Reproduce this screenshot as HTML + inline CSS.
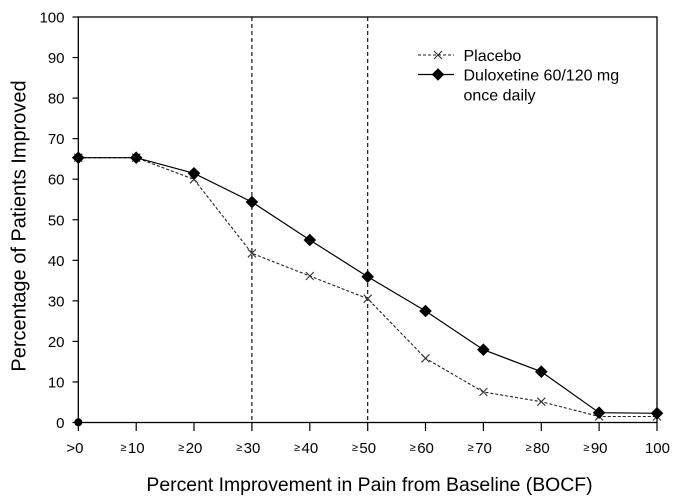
<!DOCTYPE html>
<html><head><meta charset="utf-8"><style>
html,body{margin:0;padding:0;background:#fff;}
svg{display:block;}
text{font-family:"Liberation Sans",Arial,sans-serif;fill:#000;}
</style></head><body>
<svg width="677" height="501" viewBox="0 0 677 501" xmlns="http://www.w3.org/2000/svg">
<rect x="0" y="0" width="677" height="501" fill="#fff"/>
<!-- frame -->
<rect x="78.3" y="17" width="578.7" height="405.5" fill="none" stroke="#000" stroke-width="1.3"/>
<!-- y ticks -->
<g stroke="#000" stroke-width="1.2">
<line x1="72.5" y1="422.5" x2="78.3" y2="422.5"/>
<line x1="72.5" y1="381.95" x2="78.3" y2="381.95"/>
<line x1="72.5" y1="341.4" x2="78.3" y2="341.4"/>
<line x1="72.5" y1="300.85" x2="78.3" y2="300.85"/>
<line x1="72.5" y1="260.3" x2="78.3" y2="260.3"/>
<line x1="72.5" y1="219.75" x2="78.3" y2="219.75"/>
<line x1="72.5" y1="179.2" x2="78.3" y2="179.2"/>
<line x1="72.5" y1="138.65" x2="78.3" y2="138.65"/>
<line x1="72.5" y1="98.1" x2="78.3" y2="98.1"/>
<line x1="72.5" y1="57.55" x2="78.3" y2="57.55"/>
<line x1="72.5" y1="17" x2="78.3" y2="17"/>
</g>
<!-- x ticks -->
<g stroke="#000" stroke-width="1.2">
<line x1="78.3" y1="422.5" x2="78.3" y2="431"/>
<line x1="136.2" y1="422.5" x2="136.2" y2="431"/>
<line x1="194.0" y1="422.5" x2="194.0" y2="431"/>
<line x1="251.9" y1="422.5" x2="251.9" y2="431"/>
<line x1="309.8" y1="422.5" x2="309.8" y2="431"/>
<line x1="367.7" y1="422.5" x2="367.7" y2="431"/>
<line x1="425.5" y1="422.5" x2="425.5" y2="431"/>
<line x1="483.4" y1="422.5" x2="483.4" y2="431"/>
<line x1="541.3" y1="422.5" x2="541.3" y2="431"/>
<line x1="599.1" y1="422.5" x2="599.1" y2="431"/>
<line x1="657.0" y1="422.5" x2="657.0" y2="431"/>
</g>
<!-- y tick labels -->
<g font-size="15" text-anchor="end">
<text x="64.5" y="428">0</text>
<text x="64.5" y="387.5">10</text>
<text x="64.5" y="347">20</text>
<text x="64.5" y="306.4">30</text>
<text x="64.5" y="265.8">40</text>
<text x="64.5" y="225.3">50</text>
<text x="64.5" y="184.7">60</text>
<text x="64.5" y="144.2">70</text>
<text x="64.5" y="103.6">80</text>
<text x="64.5" y="63.1">90</text>
<text x="64.5" y="22.5">100</text>
</g>
<!-- x tick labels -->
<g font-size="15" text-anchor="end">
<text x="83.5" y="453">&gt;0</text>
<text x="144.6" y="453"><tspan font-size="11" dy="-2">≥</tspan><tspan dx="1.5" dy="2">10</tspan></text>
<text x="202.4" y="453"><tspan font-size="11" dy="-2">≥</tspan><tspan dx="1.5" dy="2">20</tspan></text>
<text x="260.3" y="453"><tspan font-size="11" dy="-2">≥</tspan><tspan dx="1.5" dy="2">30</tspan></text>
<text x="318.2" y="453"><tspan font-size="11" dy="-2">≥</tspan><tspan dx="1.5" dy="2">40</tspan></text>
<text x="376.1" y="453"><tspan font-size="11" dy="-2">≥</tspan><tspan dx="1.5" dy="2">50</tspan></text>
<text x="433.9" y="453"><tspan font-size="11" dy="-2">≥</tspan><tspan dx="1.5" dy="2">60</tspan></text>
<text x="491.8" y="453"><tspan font-size="11" dy="-2">≥</tspan><tspan dx="1.5" dy="2">70</tspan></text>
<text x="549.7" y="453"><tspan font-size="11" dy="-2">≥</tspan><tspan dx="1.5" dy="2">80</tspan></text>
<text x="607.5" y="453"><tspan font-size="11" dy="-2">≥</tspan><tspan dx="1.5" dy="2">90</tspan></text>
<text x="670" y="453">100</text>
</g>
<!-- axis titles -->
<text x="369.5" y="491" font-size="19.4" text-anchor="middle">Percent Improvement in Pain from Baseline (BOCF)</text>
<text transform="translate(25.5,226) rotate(-90)" font-size="20" text-anchor="middle">Percentage of Patients Improved</text>
<!-- dashed verticals -->
<g stroke="#000" stroke-width="1.1" stroke-dasharray="4,3">
<line x1="251.9" y1="17" x2="251.9" y2="422.5"/>
<line x1="367.7" y1="17" x2="367.7" y2="422.5"/>
</g>
<!-- placebo line -->
<polyline fill="none" stroke="#222" stroke-width="1.1" stroke-dasharray="3,2"
 points="78.3,157.7 136.2,157.7 194.0,179.3 251.9,253.3 309.8,276 367.7,298.7 425.5,358.3 483.4,392 541.3,401.7 599.1,416.5 657.0,416.5"/>
<!-- placebo markers -->
<g stroke="#333" stroke-width="1.1">
<path d="M74.3,153.7 L82.3,161.7 M82.3,153.7 L74.3,161.7"/>
<path d="M132.2,153.7 L140.2,161.7 M140.2,153.7 L132.2,161.7"/>
<path d="M190,175.3 L198,183.3 M198,175.3 L190,183.3"/>
<path d="M247.9,249.3 L255.9,257.3 M255.9,249.3 L247.9,257.3"/>
<path d="M305.8,272 L313.8,280 M313.8,272 L305.8,280"/>
<path d="M363.7,294.7 L371.7,302.7 M371.7,294.7 L363.7,302.7"/>
<path d="M421.5,354.3 L429.5,362.3 M429.5,354.3 L421.5,362.3"/>
<path d="M479.4,388 L487.4,396 M487.4,388 L479.4,396"/>
<path d="M537.3,397.7 L545.3,405.7 M545.3,397.7 L537.3,405.7"/>
<path d="M595.1,412.5 L603.1,420.5 M603.1,412.5 L595.1,420.5"/>
<path d="M653,412.5 L661,420.5 M661,412.5 L653,420.5"/>
</g>
<!-- duloxetine line -->
<polyline fill="none" stroke="#000" stroke-width="1.2"
 points="78.3,157.7 136.2,157.7 194.0,173.3 251.9,202 309.8,240 367.7,276.7 425.5,311 483.4,349.7 541.3,371.7 599.1,412.7 657.0,413.3"/>
<!-- duloxetine markers -->
<g fill="#000">
<path d="M78.3,151.4 L84.6,157.7 L78.3,164 L72,157.7Z"/>
<path d="M136.2,151.4 L142.5,157.7 L136.2,164 L129.9,157.7Z"/>
<path d="M194,167 L200.3,173.3 L194,179.6 L187.7,173.3Z"/>
<path d="M251.9,195.7 L258.2,202 L251.9,208.3 L245.6,202Z"/>
<path d="M309.8,233.7 L316.1,240 L309.8,246.3 L303.5,240Z"/>
<path d="M367.7,270.4 L374,276.7 L367.7,283 L361.4,276.7Z"/>
<path d="M425.5,304.7 L431.8,311 L425.5,317.3 L419.2,311Z"/>
<path d="M483.4,343.4 L489.7,349.7 L483.4,356 L477.1,349.7Z"/>
<path d="M541.3,365.4 L547.6,371.7 L541.3,378 L535,371.7Z"/>
<path d="M599.1,406.4 L605.4,412.7 L599.1,419 L592.8,412.7Z"/>
<path d="M657,407 L663.3,413.3 L657,419.6 L650.7,413.3Z"/>
<circle cx="78.3" cy="422.3" r="4"/>
</g>
<!-- legend -->
<line x1="418" y1="55" x2="454" y2="55" stroke="#222" stroke-width="1.1" stroke-dasharray="3,2"/>
<path d="M434,51 L442,59 M442,51 L434,59" stroke="#333" stroke-width="1.1"/>
<line x1="418" y1="74.5" x2="454" y2="74.5" stroke="#000" stroke-width="1.2"/>
<path d="M438,68.2 L444.3,74.5 L438,80.8 L431.7,74.5Z" fill="#000"/>
<g font-size="16">
<text x="463.5" y="61">Placebo</text>
<text x="463.5" y="80.5">Duloxetine 60/120 mg</text>
<text x="463.5" y="100.5">once daily</text>
</g>
</svg>
</body></html>
